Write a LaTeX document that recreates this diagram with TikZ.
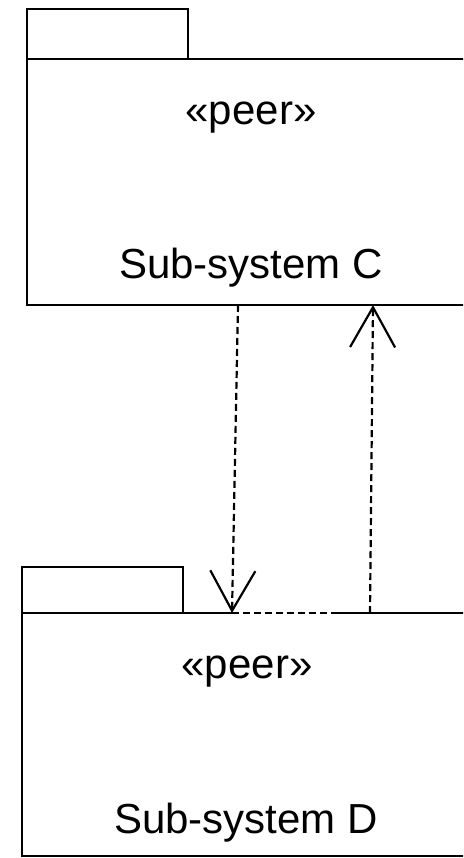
\documentclass[tikz,border=0pt]{standalone}
\usepackage{fontspec}
\setmainfont{Liberation Sans}
\usetikzlibrary{arrows.meta,calc}
\begin{document}
\begin{tikzpicture}[x=1pt,y=-1pt,line width=2.2pt,
  box/.style={rectangle,inner sep=0pt,outer sep=0pt,anchor=north west},
  lbl/.style={font=\fontsize{42}{50}\selectfont,anchor=base,inner sep=0pt},
  dep/.style={dash pattern=on 7pt off 4pt,-{Straight Barb[length=40pt,width=45pt]}}]
\useasboundingbox (0,0) rectangle (463,858);
\clip (0,0) rectangle (463,858);
% package C
\node[box,draw,minimum width=161pt,minimum height=50pt] (Ctab) at (27,9) {};
\node[box,draw,minimum width=470pt,minimum height=246pt] (C) at (27,59) {};
\node[lbl] (Cst) at (251,125) {«peer»};
\node[lbl] (Cname) at (251,278) {Sub-system C};
% package D
\node[box,draw,minimum width=161pt,minimum height=46pt] (Dtab) at (22,567) {};
\node[box,minimum width=470pt,minimum height=243pt] (D) at (22,613) {};
\draw (D.north west) -- ($(D.north west)+(210,0)$);
\draw[dash pattern=on 7pt off 4pt] ($(D.north west)+(210,0)$) -- ($(D.north west)+(313,0)$);
\draw ($(D.north west)+(313,0)$) -- (D.north east) -- (D.south east) -- (D.south west) -- (D.north west);
\node[lbl] (Dst) at (247,678) {«peer»};
\node[lbl] (Dname) at (246,833) {Sub-system D};
% dependencies
\coordinate (c1) at (238,305);
\coordinate (d1) at (232,613);
\coordinate (d2) at (370,613);
\coordinate (c2) at (373,305);
\draw[dep] (c1) -- (d1);
\draw[dep] (d2) -- (c2);
\end{tikzpicture}
\end{document}
